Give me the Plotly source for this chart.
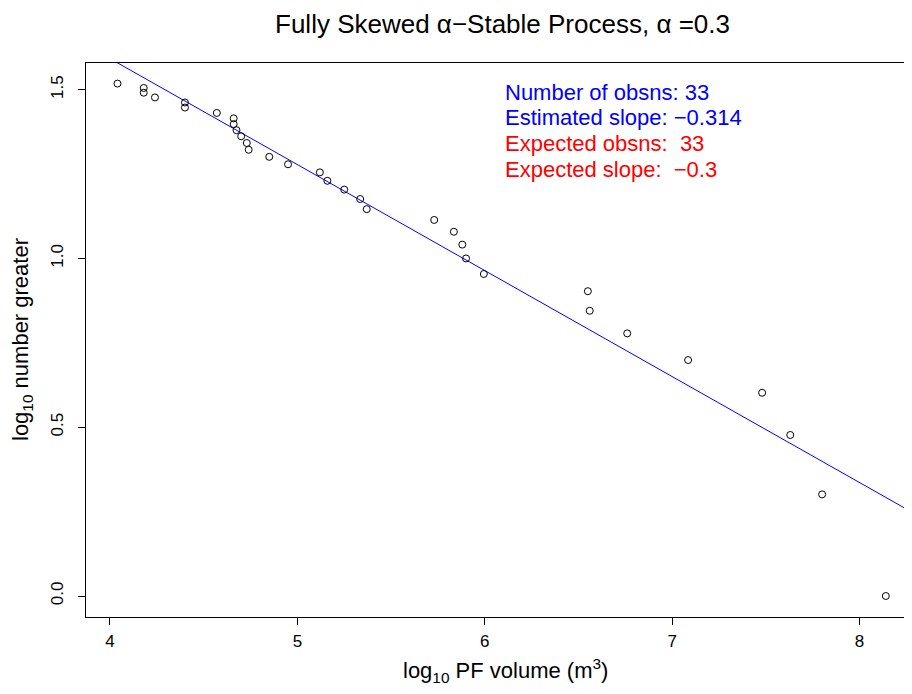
import numpy as np
import plotly.graph_objects as go

# data
log_volume = [4.04, 4.18, 4.18, 4.24, 4.40, 4.40, 4.57, 4.66, 4.66, 4.675, 4.70,
              4.73, 4.74, 4.85, 4.95, 5.12, 5.16, 5.25, 5.335, 5.37, 5.73, 5.835,
              5.88, 5.90, 5.995, 6.55, 6.56, 6.76, 7.085, 7.48, 7.63, 7.80, 8.14]
log_number_greater = [1.518, 1.505, 1.491, 1.477, 1.462, 1.447, 1.431, 1.415, 1.398,
                      1.380, 1.362, 1.342, 1.322, 1.301, 1.279, 1.255, 1.230, 1.204,
                      1.176, 1.146, 1.114, 1.079, 1.041, 1.000, 0.954, 0.903, 0.845,
                      0.778, 0.699, 0.602, 0.477, 0.301, 0.000]
fit_slope = -0.314
fit_intercept = 2.848
x_ticks = [4, 5, 6, 7, 8]
y_ticks = [0.0, 0.5, 1.0, 1.5]
y_tick_labels = ["0.0", "0.5", "1.0", "1.5"]
info_lines = ["Number of obsns: 33", "Estimated slope: \u22120.314",
              "Expected obsns:  33", "Expected slope:  \u22120.3"]
info_colors = ["#0000FF", "#0000FF", "#FF0000", "#FF0000"]

FONT = "Liberation Sans, Arial, sans-serif"
xr = [3.872, 8.237]
yr = [-0.0622, 1.579]

W, H = 896, 678  # page body has an 8px margin

fig = go.Figure()
line_x = np.array(xr)
fig.add_trace(go.Scatter(x=line_x, y=fit_intercept + fit_slope * line_x, mode="lines",
                         line=dict(color="#0000FF", width=1), showlegend=False,
                         hoverinfo="skip"))
fig.add_trace(go.Scatter(x=log_volume, y=log_number_greater, mode="markers",
                         marker=dict(symbol="circle-open", size=7, color="black",
                                     line=dict(width=1, color="black")),
                         showlegend=False, cliponaxis=False))

ys = [1.492, 1.418, 1.341, 1.264]
for txt, col, yv in zip(info_lines, info_colors, ys):
    fig.add_annotation(x=6.097, y=yv, xref="x", yref="y", text=txt, showarrow=False,
                       xanchor="left", yanchor="middle",
                       font=dict(family=FONT, size=22, color=col))

fig.add_annotation(x=0, y=0.5, xref="paper", yref="paper", xshift=-64,
                   text="log<sub>10</sub> number greater", textangle=-90, showarrow=False,
                   font=dict(family=FONT, size=22, color="black"),
                   xanchor="center", yanchor="middle")
fig.add_annotation(x=6.11, y=0, xref="x", yref="paper", yshift=-53,
                   text="log<sub>10</sub> PF volume (m<sup>3</sup>)", showarrow=False,
                   font=dict(family=FONT, size=22, color="black"),
                   xanchor="center", yanchor="middle")

fig.update_layout(
    width=W, height=H,
    margin=dict(l=78, r=0, t=55, b=69, pad=0),
    paper_bgcolor="white", plot_bgcolor="white",
    title=dict(text="Fully Skewed \u03b1\u2212Stable Process, \u03b1 =0.3",
               x=494.5 / W, xref="container", xanchor="center",
               y=1 - 16 / H, yref="container", yanchor="middle",
               font=dict(family=FONT, size=26, color="black")),
    xaxis=dict(range=xr, tickvals=x_ticks, ticks="outside", ticklen=7, tickwidth=1,
               tickcolor="black", showline=True, linecolor="black", linewidth=1,
               mirror=True, showgrid=False, zeroline=False,
               tickfont=dict(family=FONT, size=17, color="black"),
               ticklabelstandoff=2),
    yaxis=dict(range=yr, tickvals=y_ticks, ticktext=y_tick_labels, ticks="outside",
               ticklen=7, tickwidth=1, tickcolor="black", showline=True,
               linecolor="black", linewidth=1, mirror=False, showgrid=False,
               zeroline=False, tickangle=-90,
               tickfont=dict(family=FONT, size=17, color="black"),
               ticklabelstandoff=8),
)

fig.write_html("out.html")
